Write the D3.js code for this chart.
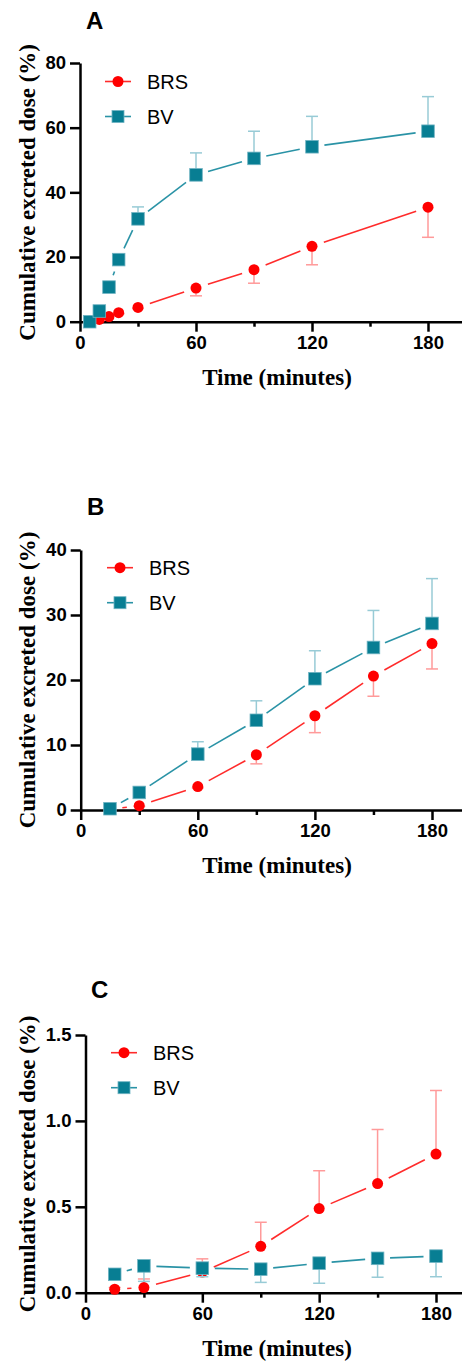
<!DOCTYPE html>
<html>
<head>
<meta charset="utf-8">
<script src="https://cdn.jsdelivr.net/npm/d3@7"></script>
<style>
  body { margin: 0; background: #fff; }
  svg { display: block; }
</style>
</head>
<body>
<script>
// ---- data ----
var timesA = [5, 10, 15, 20, 30, 60, 90, 120, 180];
var brsA = [0.2, 0.7, 1.6, 2.8, 4.4, 10.4, 16.1, 23.3, 35.4];
var brsErrA = [0, 0, 0, 0.3, 0.3, 2.4, 4.2, 5.7, 9.3];
var bvA = [0, 3.3, 10.7, 19.2, 31.8, 45.4, 50.5, 54.1, 58.9];
var bvErrA = [0, 0.3, 0.5, 1.2, 3.7, 6.8, 8.4, 9.4, 10.7];

var timesB = [15, 30, 60, 90, 120, 150, 180];
var brsB = [0.1, 0.67, 3.6, 8.5, 14.5, 20.6, 25.6];
var brsErrB = [0, 0.1, 0.2, 1.4, 2.6, 3.1, 3.9];
var bvB = [0.2, 2.7, 8.6, 13.8, 20.2, 25.0, 28.7];
var bvErrB = [0, 0.2, 1.9, 3.0, 4.3, 5.7, 6.9];

var timesC = [15, 30, 60, 90, 120, 150, 180];
var brsC = [0.02, 0.03, 0.12, 0.27, 0.49, 0.635, 0.807];
var brsErrC = [0.01, 0.05, 0.077, 0.14, 0.22, 0.315, 0.37];
var bvC = [0.107, 0.156, 0.143, 0.137, 0.172, 0.2, 0.213];
var bvErrC = [0, 0.09, 0.05, 0.077, 0.117, 0.11, 0.12];

var xTicks = [0, 60, 120, 180];
var xMinorTicks = [30, 90, 150];
var yTicksA = [0, 20, 40, 60, 80];
var yTicksB = [0, 10, 20, 30, 40];
var yTicksC = [0, 0.5, 1.0, 1.5];

var red = "#ff0000", redLine = "#ff2b2b", redErr = "#ff9a9a";
var teal = "#087e93", tealLine = "#2a93a6", tealErr = "#98cbd6";

var svg = d3.select("body").append("svg")
    .attr("width", 462)
    .attr("height", 1367);

function drawPanel(p) {
  var g = svg.append("g");
  var pxPerMin = (p.x180 - p.x0) / 180;
  var x = d3.scaleLinear().domain([0, 200]).range([p.x0, p.x0 + 200 * pxPerMin]);
  var y = d3.scaleLinear().domain([0, p.ymax]).range([p.y0, p.yTop]);

  // axes
  var yAxis = g.append("g")
    .attr("transform", "translate(" + p.x0 + ",0)")
    .call(d3.axisLeft(y).tickValues(p.yTicks).tickSize(10).tickSizeOuter(0).tickPadding(4).tickFormat(p.yFmt));
  var xAxis = g.append("g")
    .attr("transform", "translate(0," + p.y0 + ")")
    .call(d3.axisBottom(x).tickValues(xTicks).tickSize(10).tickSizeOuter(0).tickPadding(4));
  var xMinor = g.append("g")
    .attr("transform", "translate(0," + p.y0 + ")")
    .call(d3.axisBottom(x).tickValues(xMinorTicks).tickSize(5).tickFormat(""));
  xMinor.select(".domain").remove();

  [yAxis, xAxis, xMinor].forEach(function (a) {
    a.selectAll("path, line").attr("stroke", "#000").attr("stroke-width", 2.5);
    a.selectAll("text")
      .attr("fill", "#000")
      .attr("font-family", "Liberation Sans, Arial, sans-serif")
      .attr("font-weight", "bold")
      .attr("font-size", 18.5);
  });

  // titles
  g.append("text")
    .attr("transform", "translate(" + p.titleX + "," + ((p.y0 + p.yTop) / 2) + ") rotate(-90)")
    .attr("text-anchor", "middle")
    .attr("dy", "0.35em")
    .attr("font-family", "Liberation Serif, Times New Roman, serif")
    .attr("font-weight", "bold")
    .attr("font-size", 23)
    .text("Cumulative excreted dose (%)");

  g.append("text")
    .attr("x", 277)
    .attr("y", p.y0 + 55)
    .attr("text-anchor", "middle")
    .attr("dy", "0.35em")
    .attr("font-family", "Liberation Serif, Times New Roman, serif")
    .attr("font-weight", "bold")
    .attr("font-size", 23)
    .text("Time (minutes)");

  g.append("text")
    .attr("x", p.letterX)
    .attr("y", p.letterY)
    .attr("font-family", "Liberation Sans, Arial, sans-serif")
    .attr("font-weight", "bold")
    .attr("font-size", 24)
    .text(p.letter);

  // series
  var series = [
    {name: "BRS", vals: p.brs, err: p.brsErr, dir: p.brsDir, fill: red, line: redLine, errc: redErr, shape: "circle"},
    {name: "BV", vals: p.bv, err: p.bvErr, dir: p.bvDir, fill: teal, line: tealLine, errc: tealErr, shape: "square"}
  ];

  var gap = 12.5;
  series.forEach(function (s) {
    var pts = p.times.map(function (t, i) {
      return {t: t, v: s.vals[i], e: s.err[i]};
    });

    // connecting segments, broken near the markers
    var segs = [];
    for (var i = 0; i < pts.length - 1; i++) {
      var ax = x(pts[i].t), ay = y(pts[i].v), bx = x(pts[i + 1].t), by = y(pts[i + 1].v);
      var len = Math.sqrt((bx - ax) * (bx - ax) + (by - ay) * (by - ay));
      if (len > 2 * gap + 1) {
        var ux = (bx - ax) / len, uy = (by - ay) / len;
        segs.push([ax + ux * gap, ay + uy * gap, bx - ux * gap, by - uy * gap]);
      }
    }
    g.append("g").selectAll("line")
      .data(segs)
      .enter().append("line")
        .attr("x1", function (d) { return d[0]; })
        .attr("y1", function (d) { return d[1]; })
        .attr("x2", function (d) { return d[2]; })
        .attr("y2", function (d) { return d[3]; })
        .attr("stroke", s.line)
        .attr("stroke-width", 1.6);

    // error bars (one sided)
    var eb = g.append("g").selectAll("g")
      .data(pts.filter(function (d) { return d.e > 0; }))
      .enter().append("g");
    eb.append("line")
      .attr("x1", function (d) { return x(d.t); })
      .attr("x2", function (d) { return x(d.t); })
      .attr("y1", function (d) { return y(d.v); })
      .attr("y2", function (d) { return y(d.v + s.dir * d.e); })
      .attr("stroke", s.errc)
      .attr("stroke-width", 1.5);
    eb.append("line")
      .attr("x1", function (d) { return x(d.t) - 6; })
      .attr("x2", function (d) { return x(d.t) + 6; })
      .attr("y1", function (d) { return y(d.v + s.dir * d.e); })
      .attr("y2", function (d) { return y(d.v + s.dir * d.e); })
      .attr("stroke", s.errc)
      .attr("stroke-width", 1.5);

    // markers
    var m = g.append("g").selectAll(".m")
      .data(pts)
      .enter();
    if (s.shape === "circle") {
      m.append("circle")
        .attr("cx", function (d) { return x(d.t); })
        .attr("cy", function (d) { return y(d.v); })
        .attr("r", 5.5)
        .attr("fill", s.fill);
    } else {
      m.append("rect")
        .attr("x", function (d) { return x(d.t) - 6.3; })
        .attr("y", function (d) { return y(d.v) - 6.3; })
        .attr("width", 12.6)
        .attr("height", 12.6)
        .attr("fill", s.fill)
        .attr("stroke", "#6fb3c2")
        .attr("stroke-width", 0.8);
    }
  });

  // legend
  var lg = g.append("g").selectAll("g")
    .data(series)
    .enter().append("g")
      .attr("transform", function (d, i) { return "translate(" + p.legX + "," + (p.legY + i * 35) + ")"; });
  lg.append("line")
    .attr("x1", -13).attr("x2", 13)
    .attr("stroke", function (d) { return d.line; })
    .attr("stroke-width", 1.6);
  lg.each(function (d) {
    var sel = d3.select(this);
    if (d.shape === "circle") {
      sel.append("circle").attr("r", 5.5).attr("fill", d.fill);
    } else {
      sel.append("rect").attr("x", -6).attr("y", -6).attr("width", 12).attr("height", 12)
        .attr("fill", d.fill).attr("stroke", "#6fb3c2").attr("stroke-width", 0.8);
    }
  });
  lg.append("text")
    .attr("x", 29)
    .attr("dy", "0.36em")
    .attr("font-family", "Liberation Sans, Arial, sans-serif")
    .attr("font-size", 20)
    .text(function (d) { return d.name; });
}

drawPanel({
  letter: "A", letterX: 86, letterY: 29,
  x0: 80, x180: 428, y0: 321.7, yTop: 63, ymax: 80, yTicks: yTicksA, yFmt: d3.format("d"),
  titleX: 27, legX: 118, legY: 81.5,
  times: timesA, brs: brsA, brsErr: brsErrA, brsDir: -1, bv: bvA, bvErr: bvErrA, bvDir: 1
});

drawPanel({
  letter: "B", letterX: 87, letterY: 515,
  x0: 80.7, x180: 432, y0: 810, yTop: 550, ymax: 40, yTicks: yTicksB, yFmt: d3.format("d"),
  titleX: 27, legX: 120, legY: 567.7,
  times: timesB, brs: brsB, brsErr: brsErrB, brsDir: -1, bv: bvB, bvErr: bvErrB, bvDir: 1
});

drawPanel({
  letter: "C", letterX: 91, letterY: 998,
  x0: 85.5, x180: 436, y0: 1292.7, yTop: 1035, ymax: 1.5, yTicks: yTicksC, yFmt: d3.format(".1f"),
  titleX: 27, legX: 124, legY: 1052.7,
  times: timesC, brs: brsC, brsErr: brsErrC, brsDir: 1, bv: bvC, bvErr: bvErrC, bvDir: -1
});
</script>
</body>
</html>
